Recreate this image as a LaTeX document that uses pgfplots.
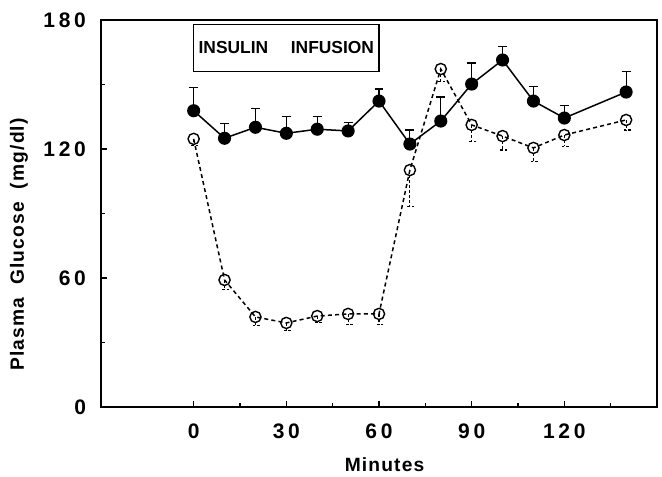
\documentclass[border=0pt]{standalone}
\usepackage{fontspec}
\setmainfont{Liberation Sans}
\usepackage{pgfplots}
\pgfplotsset{compat=1.18}
\begin{document}
\begin{tikzpicture}
\begin{axis}[name=ax, scale only axis, width=278pt, height=193.5pt,
  xmin=-30, xmax=150, ymin=0, ymax=180,
  xtick={0,30,60,90,120}, minor xtick={15,45,75,105,135},
  ytick={0,60,120,180}, minor ytick={30,90,150},
  xtick pos=lower, ytick pos=left,
  tick align=inside, major tick length=3pt, minor tick length=2pt,
  tick style={line width=0.6pt, black},
  axis line style={line width=0.75pt},
  /pgf/number format/assume math mode=true,
  ticklabel style={font=\fontsize{10.5}{12}\selectfont\bfseries\addfontfeature{LetterSpace=18}},
  xticklabel style={yshift=-5pt},
  yticklabel style={xshift=-4pt},
  every axis x label/.style={at={(axis description cs:0.51,-0.15)}, anchor=center},
  every axis y label/.style={at={(axis description cs:-0.1475,0.42)}, anchor=center, rotate=90},
  label style={font=\fontsize{9.6}{11}\selectfont\bfseries\addfontfeature{LetterSpace=6}},
  xlabel={Minutes}, ylabel={Plasma\ \ Glucose\ \ (mg/dl)},
]
\addplot[black, line width=0.75pt, mark=*, mark size=2.9pt,
  error bars/.cd, y dir=plus, y explicit,
  error mark options={rotate=90, mark size=2.2pt, line width=0.6pt},
  error bar style={line width=0.6pt}]
  table[x=x, y=y, y error=e] {
x y e
0 137.8 10.9
10 125.0 7.0
20 130.1 8.8
30 127.3 7.8
40 129.2 5.9
50 128.4 4.0
60 142.3 5.6
70 122.3 6.5
80 133.0 11.2
90 150.2 9.8
100 161.4 6.4
110 142.3 6.8
120 134.4 5.9
140 146.5 9.6
};
\addplot[black, line width=0.75pt, dash pattern=on 2pt off 1.6pt,
  mark=o, mark size=2.8pt, mark options={solid, fill=white, line width=0.7pt},
  error bars/.cd, y dir=minus, y explicit,
  error mark options={rotate=90, mark size=2.2pt, line width=0.6pt, dash pattern=on 1.2pt off 1pt},
  error bar style={line width=0.6pt, dash pattern=on 1.5pt off 1pt}]
  table[x=x, y=y, y error=e] {
x y e
0 124.7 3.0
10 59.1 4.5
20 41.9 3.9
30 39.1 3.7
40 42.3 3.1
50 43.3 5.1
60 43.3 5.0
70 110.2 17.0
80 157.2 5.9
90 131.2 7.8
100 126.0 6.5
110 120.5 6.2
120 126.5 5.3
140 133.5 4.7
};
\draw[line width=0.6pt] (axis cs:0,156) rectangle (axis cs:60,178);
\node[font=\fontsize{8.7}{10}\selectfont\bfseries] at (axis cs:30,167) {INSULIN\hspace{1.3em}INFUSION};
\end{axis}
\pgfresetboundingbox
\path ([xshift=-50.5pt,yshift=-34.5pt]ax.south west) rectangle ([xshift=2.5pt,yshift=10pt]ax.north east);
\end{tikzpicture}
\end{document}
